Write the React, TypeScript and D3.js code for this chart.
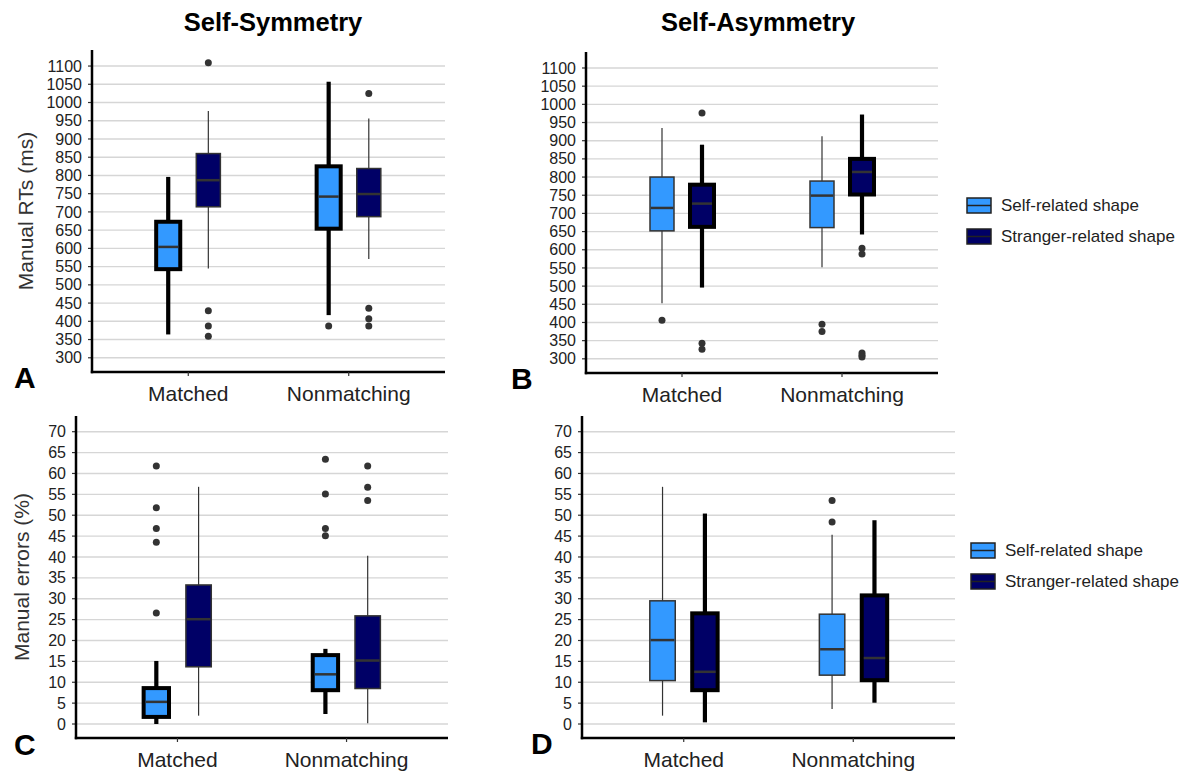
import React from "react";
import { scaleLinear, scalePoint, scaleBand } from "d3";

// categories / groups
const conditions = ["Matched", "Nonmatching"];
const shapes = ["Self-related shape", "Stranger-related shape"];
const shapeFill = ["#3399ff", "#000066"];

// tick labels
const rtTicks = [300, 350, 400, 450, 500, 550, 600, 650, 700, 750, 800, 850, 900, 950, 1000, 1050, 1100];
const errTicks = [0, 5, 10, 15, 20, 25, 30, 35, 40, 45, 50, 55, 60, 65, 70];

type Box = { cond: string; shape: string; lo: number; q1: number; med: number; q3: number; hi: number; out: number[] };

// A: Self-Symmetry, RTs
const symmetryRT: Box[] = [
  { cond: "Matched", shape: shapes[0], lo: 364, q1: 543, med: 604, q3: 673, hi: 796, out: [] },
  { cond: "Matched", shape: shapes[1], lo: 545, q1: 714, med: 787, q3: 860, hi: 977, out: [1109, 429, 387, 359] },
  { cond: "Nonmatching", shape: shapes[0], lo: 417, q1: 654, med: 742, q3: 825, hi: 1057, out: [387] },
  { cond: "Nonmatching", shape: shapes[1], lo: 571, q1: 687, med: 749, q3: 819, hi: 956, out: [1025, 436, 407, 387] },
];

// B: Self-Asymmetry, RTs
const asymmetryRT: Box[] = [
  { cond: "Matched", shape: shapes[0], lo: 453, q1: 652, med: 715, q3: 800, hi: 935, out: [406] },
  { cond: "Matched", shape: shapes[1], lo: 496, q1: 663, med: 727, q3: 779, hi: 889, out: [976, 343, 326] },
  { cond: "Nonmatching", shape: shapes[0], lo: 552, q1: 661, med: 749, q3: 789, hi: 912, out: [395, 375] },
  { cond: "Nonmatching", shape: shapes[1], lo: 642, q1: 752, med: 814, q3: 850, hi: 972, out: [604, 588, 316, 310, 305] },
];

// C: Self-Symmetry, errors
const symmetryErr: Box[] = [
  { cond: "Matched", shape: shapes[0], lo: 0, q1: 1.7, med: 5.3, q3: 8.6, hi: 15.1, out: [61.8, 51.8, 46.8, 43.5, 26.6] },
  { cond: "Matched", shape: shapes[1], lo: 2.0, q1: 13.7, med: 25.1, q3: 33.3, hi: 56.8, out: [] },
  { cond: "Nonmatching", shape: shapes[0], lo: 2.4, q1: 8.1, med: 11.9, q3: 16.5, hi: 18.0, out: [63.4, 55.1, 46.8, 45.1] },
  { cond: "Nonmatching", shape: shapes[1], lo: 0.2, q1: 8.5, med: 15.2, q3: 25.9, hi: 40.3, out: [61.8, 56.7, 53.5] },
];

// D: Self-Asymmetry, errors
const asymmetryErr: Box[] = [
  { cond: "Matched", shape: shapes[0], lo: 2.0, q1: 10.4, med: 20.1, q3: 29.5, hi: 56.8, out: [] },
  { cond: "Matched", shape: shapes[1], lo: 0.4, q1: 8.1, med: 12.5, q3: 26.5, hi: 50.4, out: [] },
  { cond: "Nonmatching", shape: shapes[0], lo: 3.6, q1: 11.7, med: 17.9, q3: 26.3, hi: 45.3, out: [53.5, 48.4] },
  { cond: "Nonmatching", shape: shapes[1], lo: 5.1, q1: 10.5, med: 15.8, q3: 30.8, hi: 48.8, out: [] },
];

const font = "Liberation Sans, Arial, sans-serif";
const txt = "#222";

const Panel = ({ x0, x1, yTop, yBot, domain, ticks, boxes, thick, letter, letterX, letterY, labelY, ytitle, ytitleX }: any) => {
  const y = scaleLinear().domain(domain).range([yBot, yTop]);
  const x = scalePoint().domain(conditions).range([x0, x1]).padding(0.6);
  const step = x.step();
  const dodge = scaleBand().domain(shapes).range([-0.2 * step, 0.2 * step]).paddingInner(0.4);
  const bw = dodge.bandwidth();

  return (
    <g>
      {ticks.map((t: number) => (
        <g key={t}>
          <line x1={x0} x2={x1} y1={y(t)} y2={y(t)} stroke="#d6d6d6" strokeWidth={1.4} />
          <line x1={x0 - 4} x2={x0} y1={y(t)} y2={y(t)} stroke="#333" strokeWidth={1.2} />
          <text x={x0 - 10} y={y(t)} dy="0.35em" textAnchor="end" fontSize={16} fill={txt} fontFamily={font}>{t}</text>
        </g>
      ))}
      {boxes.map((b: Box, i: number) => {
        const cx = (x(b.cond) as number) + (dodge(b.shape) as number) + bw / 2;
        const heavy = b.shape === thick;
        const sc = heavy ? "#000" : "#333";
        const wW = heavy ? 4.2 : 1.2;
        const bW = heavy ? 4 : 1.5;
        const fill = shapeFill[shapes.indexOf(b.shape)];
        return (
          <g key={i}>
            <line x1={cx} x2={cx} y1={y(b.q3)} y2={y(b.hi)} stroke={sc} strokeWidth={wW} />
            <line x1={cx} x2={cx} y1={y(b.q1)} y2={y(b.lo)} stroke={sc} strokeWidth={wW} />
            <rect x={cx - bw / 2} y={y(b.q3)} width={bw} height={y(b.q1) - y(b.q3)} fill={fill} stroke={sc} strokeWidth={bW} />
            <line x1={cx - bw / 2 + bW / 2} x2={cx + bw / 2 - bW / 2} y1={y(b.med)} y2={y(b.med)} stroke="#333" strokeWidth={2.5} />
            {b.out.map((o, j) => (
              <circle key={j} cx={cx} cy={y(o)} r={3.5} fill="#333" />
            ))}
          </g>
        );
      })}
      <line x1={x0} x2={x0} y1={yTop} y2={yBot + 1.2} stroke="#000" strokeWidth={2.5} />
      <line x1={x0 - 1.2} x2={x1} y1={yBot} y2={yBot} stroke="#000" strokeWidth={2.5} />
      {conditions.map((c) => (
        <g key={c}>
          <line x1={x(c)} x2={x(c)} y1={yBot} y2={yBot + 4} stroke="#333" strokeWidth={1.2} />
          <text x={x(c)} y={labelY} textAnchor="middle" fontSize={21} fill={txt} fontFamily={font}>{c}</text>
        </g>
      ))}
      <text x={letterX} y={letterY} fontSize={30} fontWeight="bold" fill="#000" fontFamily={font}>{letter}</text>
      {ytitle && (
        <text transform={`translate(${ytitleX},${(yTop + yBot) / 2}) rotate(-90)`} textAnchor="middle" fontSize={21} fill="#333" fontFamily={font}>{ytitle}</text>
      )}
    </g>
  );
};

const Legend = ({ x, y }: any) => (
  <g>
    {shapes.map((s, i) => (
      <g key={s} transform={`translate(${x},${y + i * 31})`}>
        <rect x={0} y={0} width={24} height={15} fill={shapeFill[i]} stroke="#222" strokeWidth={1.5} />
        <line x1={0} x2={24} y1={7.5} y2={7.5} stroke="#222" strokeWidth={1.5} />
        <text x={34} y={7.5} dy="0.35em" fontSize={17} fill={txt} fontFamily={font}>{s}</text>
      </g>
    ))}
  </g>
);

export default function App() {
  return (
    <svg width={1184} height={772} style={{ position: "absolute", left: 0, top: 0, background: "#fff" }}>
      <text x={273} y={31} textAnchor="middle" fontSize={25.5} fontWeight="bold" fill="#000" fontFamily={font}>Self-Symmetry</text>
      <text x={758} y={31} textAnchor="middle" fontSize={25.5} fontWeight="bold" fill="#000" fontFamily={font}>Self-Asymmetry</text>

      <Panel x0={92} x1={445} yTop={50} yBot={372} domain={[261, 1144]} ticks={rtTicks} boxes={symmetryRT}
        thick={shapes[0]} letter="A" letterX={14} letterY={388} labelY={401} ytitle="Manual RTs (ms)" ytitleX={33} />
      <Panel x0={586} x1={938} yTop={52} yBot={373} domain={[261, 1144]} ticks={rtTicks} boxes={asymmetryRT}
        thick={shapes[1]} letter="B" letterX={511} letterY={389} labelY={402} />
      <Panel x0={76} x1={448} yTop={416} yBot={738} domain={[-3.35, 73.76]} ticks={errTicks} boxes={symmetryErr}
        thick={shapes[0]} letter="C" letterX={14} letterY={755} labelY={767} ytitle="Manual errors (%)" ytitleX={29} />
      <Panel x0={582} x1={955} yTop={416} yBot={738} domain={[-3.35, 73.76]} ticks={errTicks} boxes={asymmetryErr}
        thick={shapes[1]} letter="D" letterX={531} letterY={754} labelY={767} />

      <Legend x={967} y={198} />
      <Legend x={971} y={543} />
    </svg>
  );
}
